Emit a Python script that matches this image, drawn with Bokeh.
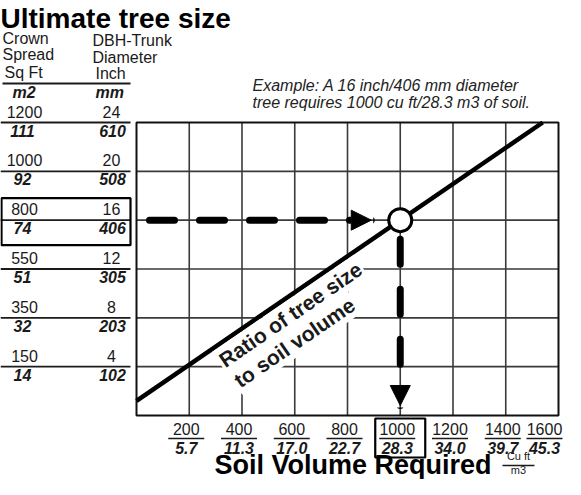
import math
from bokeh.plotting import figure
from bokeh.models import Range1d, Arrow, NormalHead
from bokeh.core.properties import value
from bokeh.embed import file_html
from bokeh.resources import INLINE

# ---------------- data ----------------
crown_sqft = [150, 350, 550, 800, 1000, 1200]
crown_m2 = [14, 32, 51, 74, 92, 111]
dbh_inch = [4, 8, 12, 16, 20, 24]
dbh_mm = [102, 203, 305, 406, 508, 610]
soil_cuft = [200, 400, 600, 800, 1000, 1200, 1400, 1600]
soil_m3 = ["5.7", "11.3", "17.0", "22.7", "28.3", "34.0", "39.7", "45.3"]
ratio_cuft = [0, 1540]
ratio_dbh = [1.2, 24.0]
example_cuft = 1000
example_dbh = 16

title = "Ultimate tree size"
example_lines = ["Example: A 16 inch/406 mm diameter",
                 "tree requires 1000 cu ft/28.3 m3 of soil."]
ratio_lines = ["Ratio of tree size", "to soil volume"]
x_title = "Soil Volume Required"

# ---------------- layout (page pixels) ----------------
W, H = 565, 479
OFF = 8
GX0, GX1 = 144, 566      # page x of 0 and max cu ft
GY0, GY1 = 423, 130      # page y of 0 and max inch
XMAX, YMAX = 1600, 24
kx = (GX1 - GX0) / XMAX
ky = (GY0 - GY1) / YMAX
BL = 7                   # baseline correction for text rendering (px)


def X(s):
    return (s - GX0) / kx


def Y(s):
    return (GY0 - s) / ky


def YT(s):
    return Y(s - BL)


FONT = value("Liberation Sans")
INK = "#1a1a1a"

p = figure(width=W, height=H, output_backend="svg", toolbar_location=None,
           x_range=Range1d(X(OFF), X(OFF + W)), y_range=Range1d(Y(OFF + H), Y(OFF)),
           x_axis_location=None, y_axis_location=None,
           min_border=0, min_border_left=0, min_border_right=0,
           min_border_top=0, min_border_bottom=0)
p.outline_line_color = None
p.grid.visible = False
p.background_fill_color = "white"
p.border_fill_color = "white"

# ---------------- grid & frame ----------------
vx = soil_cuft[:-1]
p.segment(x0=vx, x1=vx, y0=[0] * len(vx), y1=[YMAX] * len(vx),
          line_color="#3a3a3a", line_width=1.6)
hy = dbh_inch[:-1]
p.segment(x0=[0] * len(hy), x1=[XMAX] * len(hy), y0=hy, y1=hy,
          line_color="#3a3a3a", line_width=1.6)
p.quad(left=[0], right=[XMAX], bottom=[0], top=[YMAX], fill_color=None,
       line_color="#111111", line_width=2)

# ---------------- ratio line ----------------
p.line(ratio_cuft, ratio_dbh, line_color="black", line_width=4.5)

ang = math.atan2((ratio_dbh[1] - ratio_dbh[0]) * ky, (ratio_cuft[1] - ratio_cuft[0]) * kx)
p.text(x=[X(298), X(302)], y=[Y(322), Y(350)], text=ratio_lines, angle=ang,
       text_align="center", text_baseline="middle", text_font=FONT,
       text_font_size="21px", text_font_style="bold", text_color=INK,
       background_fill_color="white", padding=2)

# ---------------- example arrows ----------------
r_circle = 11
p.add_layout(Arrow(end=NormalHead(size=20, fill_color="black", line_color="black", line_width=1),
                   x_start=X(157), y_start=example_dbh,
                   x_end=example_cuft - (r_circle + 18) / kx, y_end=example_dbh,
                   line_color="black", line_width=7, line_dash="25 25", line_cap="round"))
p.add_layout(Arrow(end=NormalHead(size=20, fill_color="black", line_color="black", line_width=1),
                   x_start=example_cuft, y_start=example_dbh - (r_circle + 8) / ky,
                   x_end=example_cuft, y_end=0 + 10 / ky,
                   line_color="black", line_width=7, line_dash="25 25", line_cap="round"))
p.scatter(x=[example_cuft], y=[example_dbh], size=2 * r_circle + 1, marker="circle",
          fill_color="white", line_color="black", line_width=3)

# ---------------- title & headers ----------------
p.text(x=[X(8)], y=[YT(33)], text=[title], text_font=FONT, text_font_size="28px",
       text_font_style="bold", text_color="black", text_baseline="alphabetic")

hdr_left = ["Crown", "Spread", "Sq Ft"]
p.text(x=[X(10), X(10), X(12)], y=[YT(53), YT(69), YT(87)], text=hdr_left,
       text_font=FONT, text_font_size="16px", text_color=INK, text_baseline="alphabetic")
hdr_right = ["DBH-Trunk", "Diameter", "Inch"]
p.text(x=[X(100), X(100), X(103)], y=[YT(55), YT(72), YT(88)], text=hdr_right,
       text_font=FONT, text_font_size="16px", text_color=INK, text_baseline="alphabetic")
p.segment(x0=[X(10)], x1=[X(138)], y0=[Y(91)], y1=[Y(91)], line_color=INK, line_width=1.8)
p.text(x=[X(20), X(103)], y=[YT(107), YT(107)], text=["m2", "mm"], text_font=FONT,
       text_font_size="16px", text_font_style="bold italic", text_color=INK,
       text_baseline="alphabetic")

# ---------------- left table ----------------
n = len(dbh_inch)
up = (4 + BL) / ky
down = (15 - BL) / ky
p.text(x=[X(32)] * n, y=[d + up for d in dbh_inch], text=[str(v) for v in crown_sqft],
       text_align="center", text_baseline="alphabetic", text_font=FONT,
       text_font_size="16px", text_color=INK)
p.text(x=[X(30)] * n, y=[d - down for d in dbh_inch], text=[str(v) for v in crown_m2],
       text_align="center", text_baseline="alphabetic", text_font=FONT,
       text_font_size="16px", text_font_style="bold italic", text_color=INK)
p.text(x=[X(119)] * n, y=[d + up for d in dbh_inch], text=[str(v) for v in dbh_inch],
       text_align="center", text_baseline="alphabetic", text_font=FONT,
       text_font_size="16px", text_color=INK)
p.text(x=[X(120)] * n, y=[d - down for d in dbh_inch], text=[str(v) for v in dbh_mm],
       text_align="center", text_baseline="alphabetic", text_font=FONT,
       text_font_size="16px", text_font_style="bold italic", text_color=INK)
p.segment(x0=[X(8)] * n, x1=[X(138)] * n, y0=dbh_inch, y1=dbh_inch,
          line_color=INK, line_width=1.8)
p.quad(left=[X(9)], right=[X(138)], top=[example_dbh + 22 / ky], bottom=[example_dbh - 25 / ky],
       fill_color=None, line_color="black", line_width=2.2)

# ---------------- bottom scale ----------------
m = len(soil_cuft)
shift = [-3] * (m - 1) + [-14]
lx = [c + s / kx for c, s in zip(soil_cuft, shift)]
p.text(x=lx, y=[YT(443)] * m, text=[str(v) for v in soil_cuft], text_align="center",
       text_baseline="alphabetic", text_font=FONT, text_font_size="16px", text_color=INK)
p.text(x=lx, y=[YT(462)] * m, text=soil_m3, text_align="center",
       text_baseline="alphabetic", text_font=FONT, text_font_size="16px",
       text_font_style="bold italic", text_color=INK)
p.segment(x0=[c - 18 / kx for c in lx], x1=[c + 18 / kx for c in lx],
          y0=[Y(446)] * m, y1=[Y(446)] * m, line_color=INK, line_width=1.6)
p.quad(left=[example_cuft - 25 / kx], right=[example_cuft + 25 / kx],
       top=[Y(426)], bottom=[Y(465)], fill_color=None, line_color="black", line_width=2.2)

p.text(x=[X(222)], y=[YT(479)], text=[x_title], text_font=FONT, text_font_size="27px",
       text_font_style="bold", text_color="black", text_baseline="alphabetic")
p.text(x=[X(526)], y=[YT(470)], text=["Cu ft"], text_font=FONT, text_font_size="11px",
       text_color=INK, text_baseline="alphabetic", text_align="center")
p.segment(x0=[X(510)], x1=[X(542)], y0=[Y(473)], y1=[Y(473)], line_color=INK, line_width=1.4)
p.text(x=[X(526)], y=[YT(484)], text=["m3"], text_font=FONT, text_font_size="11px",
       text_color=INK, text_baseline="alphabetic", text_align="center")

# ---------------- example note ----------------
p.text(x=[X(260), X(260)], y=[YT(100), YT(117)], text=example_lines, text_font=FONT,
       text_font_size="16px", text_font_style="italic", text_color="#222222",
       text_baseline="alphabetic")

open("out.html", "w").write(file_html(p, INLINE))
